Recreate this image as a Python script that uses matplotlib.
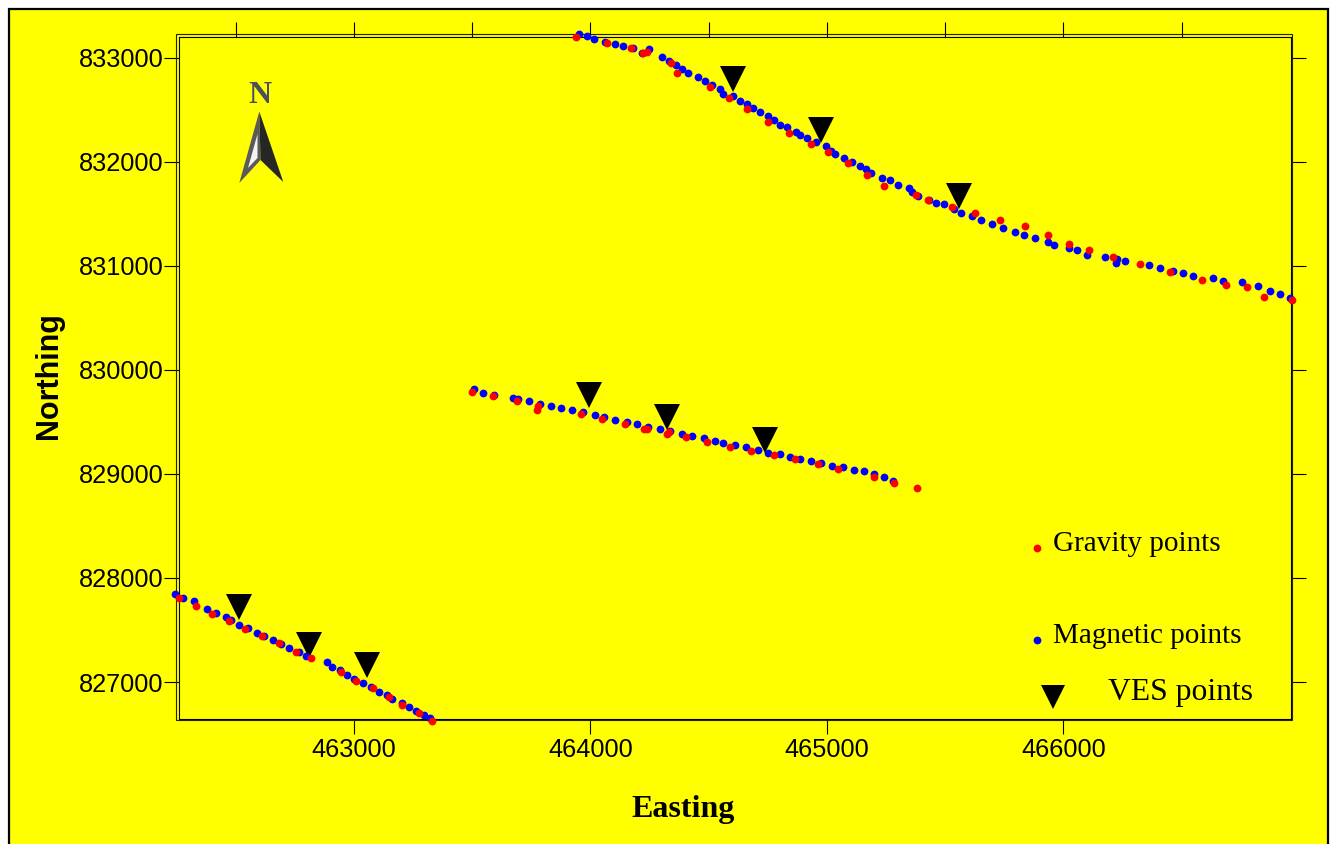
import matplotlib
matplotlib.use('Agg')
import matplotlib.pyplot as plt
from matplotlib.patches import Polygon, Rectangle
from matplotlib.ticker import FormatStrFormatter

# survey points, easting / northing in metres
mag_east = [463951, 463987, 464016, 464061, 464105, 464139, 464181, 464219, 464246, 464304,
            464332, 464360, 464389, 464413, 464453, 464484, 464512, 464546, 464561, 464604,
            464633, 464661, 464687, 464716, 464749, 464774, 464802, 464832, 464869, 464887,
            464916, 464955, 464997, 465017, 465035, 465073, 465107, 465139, 465164, 465188,
            465231, 465266, 465300, 465348, 465359, 465386, 465432, 465462, 465494, 465537,
            465567, 465613, 465650, 465696, 465744, 465795, 465835, 465880, 465936, 465961,
            466022, 466056, 466101, 466174, 466228, 466222, 466261, 466362, 466407, 466463,
            466507, 466549, 466631, 466673, 466756, 466824, 466873, 466917, 466959,
            463506, 463544, 463593, 463673, 463693, 463741, 463786, 463835, 463876, 463923,
            463967, 464019, 464058, 464103, 464153, 464195, 464245, 464295, 464336, 464386,
            464429, 464481, 464526, 464561, 464613, 464656, 464709, 464749, 464803, 464842,
            464884, 464932, 464975, 465023, 465068, 465116, 465156, 465199, 465239, 465280,
            462243, 462279, 462325, 462380, 462415, 462459, 462479, 462513, 462553, 462589,
            462621, 462658, 462690, 462727, 462766, 462797, 462886, 462908, 462939, 462969,
            463001, 463038, 463072, 463104, 463138, 463162, 463202, 463231, 463264, 463295,
            463321]
mag_north = [833226, 833206, 833181, 833152, 833133, 833110, 833088, 833040, 833078, 833001,
             832969, 832925, 832889, 832848, 832812, 832774, 832732, 832694, 832652, 832627,
             832582, 832550, 832511, 832473, 832435, 832399, 832348, 832329, 832287, 832252,
             832226, 832185, 832146, 832102, 832073, 832031, 831999, 831954, 831925, 831893,
             831845, 831820, 831772, 831749, 831708, 831666, 831631, 831602, 831589, 831541,
             831503, 831474, 831442, 831400, 831359, 831320, 831295, 831263, 831231, 831199,
             831173, 831150, 831099, 831080, 831061, 831022, 831042, 831003, 830981, 830952,
             830930, 830901, 830878, 830853, 830840, 830805, 830757, 830725, 830689,
             829812, 829780, 829755, 829732, 829723, 829697, 829675, 829652, 829633, 829614,
             829591, 829569, 829550, 829521, 829502, 829476, 829450, 829428, 829415, 829386,
             829364, 829342, 829319, 829294, 829274, 829255, 829230, 829204, 829188, 829166,
             829143, 829127, 829105, 829079, 829063, 829041, 829028, 828999, 828967, 828935,
             827843, 827805, 827779, 827699, 827661, 827626, 827597, 827549, 827517, 827469,
             827440, 827401, 827366, 827325, 827289, 827251, 827197, 827148, 827113, 827065,
             827033, 826988, 826953, 826908, 826876, 826838, 826799, 826764, 826723, 826681,
             826652]

grav_east = [463937, 464071, 464170, 464223, 464237, 464339, 464367, 464504, 464587, 464661,
             464752, 464838, 464933, 465005, 465090, 465170, 465239, 465377, 465429, 465529,
             465625, 465730, 465839, 465936, 466023, 466109, 466209, 466325, 466452, 466587,
             466688, 466777, 466848, 466965,
             463500, 463586, 463688, 463779, 463773, 463961, 464047, 464144, 464227, 464238,
             464322, 464333, 464405, 464494, 464588, 464678, 464777, 464865, 464963, 465047,
             465199, 465285, 465381,
             462259, 462331, 462401, 462470, 462539, 462613, 462683, 462756, 462820, 462945,
             463007, 463082, 463147, 463203, 463273, 463330]
grav_north = [833194, 833136, 833091, 833046, 833056, 832944, 832848, 832713, 832608, 832502,
              832380, 832278, 832166, 832092, 831983, 831871, 831762, 831682, 831631, 831567,
              831503, 831435, 831378, 831295, 831211, 831147, 831080, 831019, 830942, 830866,
              830817, 830792, 830702, 830667,
              829787, 829745, 829697, 829655, 829611, 829572, 829524, 829482, 829428, 829434,
              829383, 829399, 829354, 829306, 829258, 829217, 829182, 829140, 829098, 829050,
              828967, 828916, 828864,
              827805, 827731, 827658, 827584, 827510, 827443, 827373, 827286, 827229, 827094,
              827014, 826940, 826860, 826780, 826707, 826627]

ves_east = [464601, 464973, 465557, 463992, 464322, 464736, 462513, 462808, 463054]
ves_north = [832789, 832306, 831674, 829753, 829542, 829330, 827717, 827352, 827160]

major_x = [463000, 464000, 465000, 466000]
top_x = [462500, 463500, 464500, 465500, 466500]
major_y = [827000, 828000, 829000, 830000, 831000, 832000, 833000]

W, H = 1334, 844


def fx(px):
    return px / W


def fy(py):
    return 1 - py / H


fig = plt.figure(figsize=(W / 100, H / 100), dpi=100, facecolor='white')

# yellow page with black border, runs off the bottom
fig.add_artist(Rectangle((fx(9), fy(860)), (1328 - 9) / W, (860 - 9) / H, transform=fig.transFigure,
                         facecolor='#ffff00', edgecolor='black', linewidth=1.6, zorder=-1))

ax = fig.add_axes([fx(179), fy(718.5), (1290.5 - 179) / W, (718.5 - 37) / H], facecolor='#ffff00')
ax.set_xlim(462260, 466960)
ax.set_ylim(826650, 833197)

# second line of the double frame
ax.add_patch(Rectangle((fx(176), fy(720.3)), (1292.3 - 176) / W, (720.3 - 34) / H, transform=fig.transFigure,
                       fill=False, edgecolor='#222200', linewidth=0.8, clip_on=False, zorder=2.6))
for s in ax.spines.values():
    s.set_linewidth(0.8)

ax.set_xticks(major_x)
ax.set_xticks(top_x, minor=True)
ax.set_yticks(major_y)
ax.xaxis.set_major_formatter(FormatStrFormatter('%d'))
ax.yaxis.set_major_formatter(FormatStrFormatter('%d'))
ax.tick_params(which='major', direction='out', length=10.5, width=0.8, pad=0.5,
               left=True, right=True, bottom=True, top=True, labelsize=18.3)
ax.tick_params(axis='x', which='major', pad=3.5)
ax.tick_params(which='minor', direction='out', length=10.5, width=0.8, top=True, bottom=False)
for lab in ax.get_xticklabels() + ax.get_yticklabels():
    lab.set_family('Liberation Sans')

ax.plot(ves_east, ves_north, 'v', color='black', ms=19, mew=0, clip_on=False, zorder=3)
ax.plot(mag_east, mag_north, 'o', color='#0000ff', ms=5.6, mew=0, clip_on=False, zorder=4)
ax.plot(grav_east, grav_north, 'o', color='#ff0000', ms=5.6, mew=0, clip_on=False, zorder=5)

# legend is hand placed on the map
fig.add_artist(plt.Line2D([fx(1036.7)], [fy(547.7)], marker='o', color='#ff0000', ms=5.6, mew=0))
fig.add_artist(plt.Line2D([fx(1036.7)], [fy(639.7)], marker='o', color='#0000ff', ms=5.6, mew=0))
fig.add_artist(plt.Line2D([fx(1052.5)], [fy(697)], marker='v', color='black', ms=17, mew=0))
fig.text(fx(1053), fy(551), 'Gravity points', family='Liberation Serif', fontsize=21, va='baseline')
fig.text(fx(1053), fy(643), 'Magnetic points', family='Liberation Serif', fontsize=21, va='baseline')
fig.text(fx(1108), fy(700), 'VES points', family='Liberation Serif', fontsize=22.8, va='baseline')

fig.text(fx(683.5), fy(809), 'Easting', family='Liberation Serif', fontsize=23, fontweight='bold',
         ha='center', va='center')
fig.text(fx(48.5), fy(376), 'Northing', family='Liberation Sans', fontsize=22, fontweight='bold',
         rotation=90, ha='center', va='center')

# north arrow
fig.text(fx(259.5), fy(95.5), 'N', family='Liberation Serif', fontsize=23, fontweight='bold',
         color='#4a4f5a', ha='center', va='center')


def arrow_part(points, color):
    pts = [(fx(px), fy(py)) for px, py in points]
    fig.add_artist(Polygon(pts, closed=True, transform=fig.transFigure, facecolor=color, edgecolor='none'))


arrow_part([(259.3, 111.5), (239.3, 183), (260.5, 160)], '#5a5a5a')
arrow_part([(257.5, 134), (248, 168), (257.5, 158)], '#f4f4f4')
arrow_part([(259.3, 111.5), (283.3, 182), (260.5, 160)], '#262626')

fig.savefig('out.png', dpi=100, facecolor='white')
